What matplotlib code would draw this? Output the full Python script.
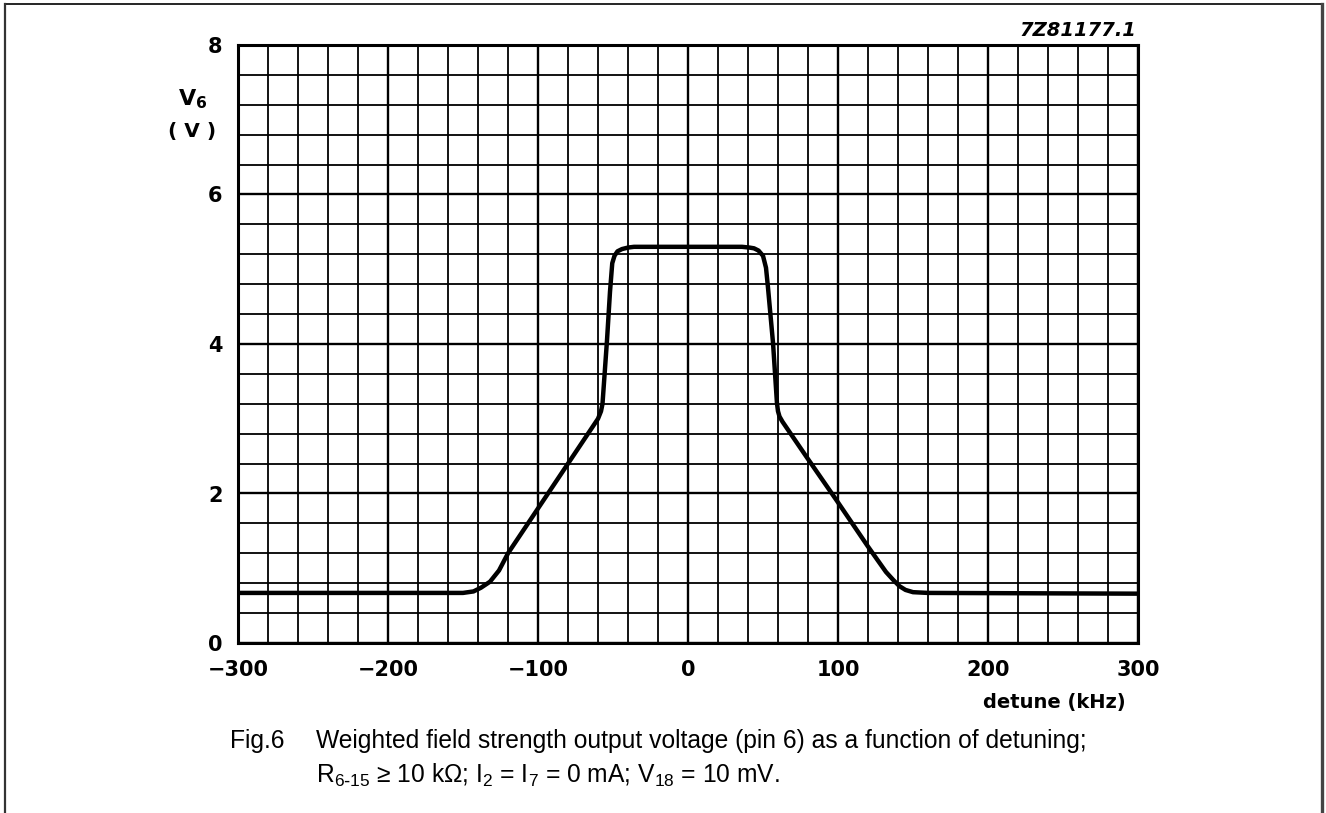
import matplotlib
matplotlib.use("Agg")
import matplotlib.pyplot as plt
from matplotlib.lines import Line2D

# ---- data ----
detune_khz = [-300, -150, -143, -138, -132, -126, -120, -100, -80, -64, -60, -58, -57,
              -54, -52, -50.5, -49, -47, -44, -40, -36, 0, 36, 41, 44, 47, 50, 52,
              53.3, 56.7, 59.3, 60, 61, 63, 79, 99, 120, 132, 137, 141, 145, 150, 160, 300]
v6 = [0.67, 0.67, 0.69, 0.74, 0.82, 0.97, 1.20, 1.80, 2.40, 2.88, 3.00, 3.10, 3.20,
      4.05, 4.70, 5.08, 5.18, 5.24, 5.27, 5.29, 5.30, 5.30, 5.30, 5.29, 5.28, 5.25, 5.18, 5.02,
      4.76, 4.01, 3.21, 3.10, 3.03, 2.96, 2.49, 1.91, 1.29, 0.95, 0.84, 0.76, 0.71, 0.68, 0.67, 0.66]

x_ticks = [-300, -200, -100, 0, 100, 200, 300]
x_tick_labels = ["\u2212300", "\u2212200", "\u2212100", "0", "100", "200", "300"]
y_ticks = [0, 2, 4, 6, 8]
y_tick_labels = ["0", "2", "4", "6", "8"]
x_grid = list(range(-300, 301, 20))
y_grid = [i * 0.4 for i in range(21)]

W, H = 1326, 813
fig = plt.figure(figsize=(W / 100, H / 100), dpi=100)
ax = fig.add_axes([238 / W, 1 - 643 / H, 900 / W, 598 / H])

ax.set_xlim(-300, 300)
ax.set_ylim(0, 8)

for gx in x_grid:
    lw = 1.7 if gx % 100 == 0 else 1.3
    ax.axvline(gx, color="black", lw=lw, zorder=1)
for gy in y_grid:
    lw = 1.7 if abs(gy / 2 - round(gy / 2)) < 1e-6 else 1.3
    ax.axhline(gy, color="black", lw=lw, zorder=1)

ax.plot(detune_khz, v6, color="black", lw=3.2, solid_joinstyle="round",
        solid_capstyle="round", zorder=3)

for s in ax.spines.values():
    s.set_linewidth(2.2)

ax.set_xticks(x_ticks)
ax.set_xticklabels(x_tick_labels)
ax.set_yticks(y_ticks)
ax.set_yticklabels(y_tick_labels)
ax.tick_params(length=0)
ax.tick_params(axis="y", pad=11)
ax.tick_params(axis="x", pad=12)
for lab in ax.get_xticklabels() + ax.get_yticklabels():
    lab.set_fontfamily("DejaVu Sans")
    lab.set_fontweight("bold")
    lab.set_fontsize(15)

bold = dict(family="DejaVu Sans", fontweight="bold", color="black")
fig.text(193 / W, 1 - 99 / H, r"V$_\mathbf{6}$", fontsize=16, ha="center", va="center", **bold)
fig.text(192 / W, 1 - 131 / H, "( V )", fontsize=14.5, ha="center", va="center", **bold)
fig.text(1126 / W, 1 - 702 / H, "detune (kHz)", fontsize=14, ha="right", va="center", **bold)
fig.text(1136 / W, 1 - 31 / H, "7Z81177.1", fontsize=14, ha="right", va="center",
         family="DejaVu Sans", fontweight="bold", fontstyle="italic")

cap = dict(family="Liberation Sans", fontsize=17.7, color="black", va="center", ha="left")
fig.text(230 / W, 1 - 741 / H, "Fig.6", **cap)
fig.text(316 / W, 1 - 741 / H,
         "Weighted field strength output voltage (pin 6) as a function of detuning;", **cap)
fig.text(316 / W, 1 - 775 / H,
         r"R$_{\mathregular{6\text{-}15}}$ ≥ 10 kΩ; I$_{\mathregular{2}}$ = I$_{\mathregular{7}}$ = 0 mA; V$_{\mathregular{18}}$ = 10 mV.",
         **cap)

# page border
fig.add_artist(Line2D([5 / W, 1322 / W], [1 - 4 / H, 1 - 4 / H], color="black", lw=1.2,
                      transform=fig.transFigure))
fig.add_artist(Line2D([5 / W, 5 / W], [0, 1 - 4 / H], color="#333333", lw=1.6,
                      transform=fig.transFigure))
fig.add_artist(Line2D([1322 / W, 1322 / W], [0, 1 - 4 / H], color="#444444", lw=2.4,
                      transform=fig.transFigure))

fig.savefig("out.png", dpi=100, facecolor="white")
